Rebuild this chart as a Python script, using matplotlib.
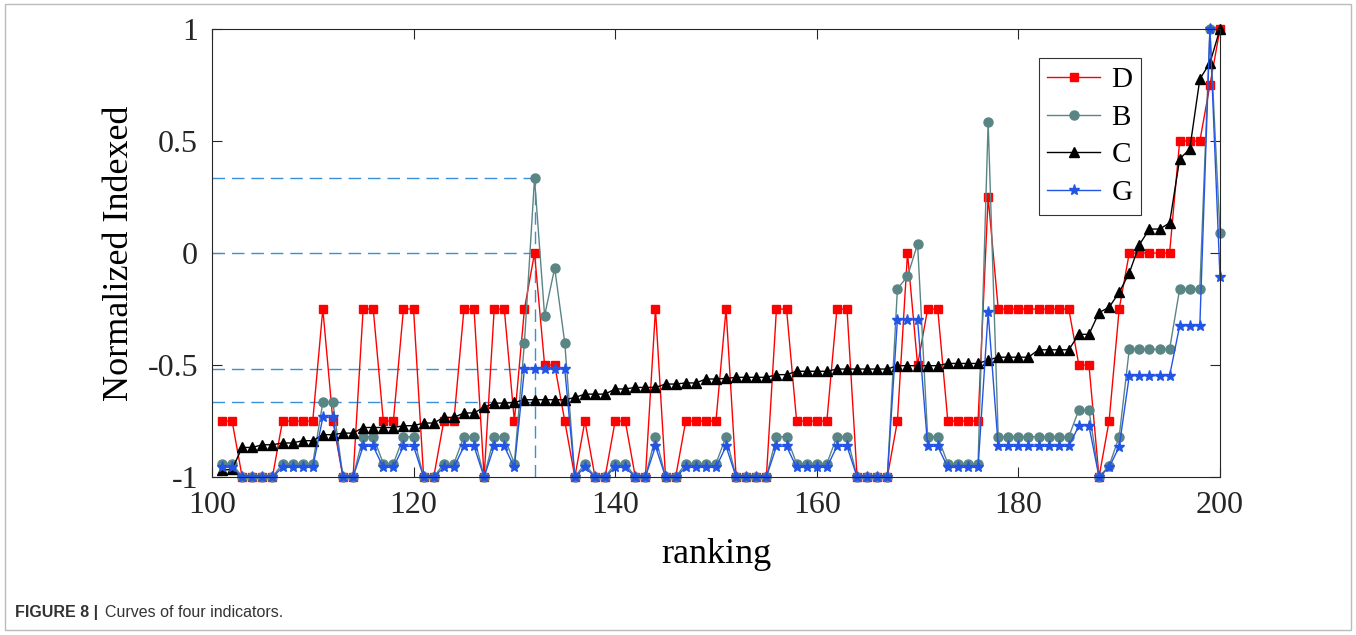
import matplotlib
matplotlib.use('Agg')
import matplotlib.pyplot as plt
import numpy as np

plt.rcParams['font.family'] = ['Liberation Serif', 'DejaVu Serif']
plt.rcParams['axes.unicode_minus'] = False

RANKING = list(range(101, 201))

D = [-0.75, -0.75, -1, -1, -1, -1, -0.75, -0.75, -0.75, -0.75,
     -0.25, -0.75, -1, -1, -0.25, -0.25, -0.75, -0.75, -0.25, -0.25,
     -1, -1, -0.75, -0.75, -0.25, -0.25, -1, -0.25, -0.25, -0.75,
     -0.25, 0, -0.5, -0.5, -0.75, -1, -0.75, -1, -1, -0.75,
     -0.75, -1, -1, -0.25, -1, -1, -0.75, -0.75, -0.75, -0.75,
     -0.25, -1, -1, -1, -1, -0.25, -0.25, -0.75, -0.75, -0.75,
     -0.75, -0.25, -0.25, -1, -1, -1, -1, -0.75, 0, -0.5,
     -0.25, -0.25, -0.75, -0.75, -0.75, -0.75, 0.25, -0.25, -0.25, -0.25,
     -0.25, -0.25, -0.25, -0.25, -0.25, -0.5, -0.5, -1, -0.75, -0.25,
     0, 0, 0, 0, 0, 0.5, 0.5, 0.5, 0.75, 1]

B = [-0.94, -0.94, -1, -1, -1, -1, -0.94, -0.94, -0.94, -0.94,
     -0.667, -0.667, -1, -1, -0.82, -0.82, -0.94, -0.94, -0.82, -0.82,
     -1, -1, -0.94, -0.94, -0.82, -0.82, -1, -0.82, -0.82, -0.94,
     -0.4, 0.333, -0.28, -0.067, -0.4, -1, -0.94, -1, -1, -0.94,
     -0.94, -1, -1, -0.82, -1, -1, -0.94, -0.94, -0.94, -0.94,
     -0.82, -1, -1, -1, -1, -0.82, -0.82, -0.94, -0.94, -0.94,
     -0.94, -0.82, -0.82, -1, -1, -1, -1, -0.16, -0.104, 0.04,
     -0.82, -0.82, -0.94, -0.94, -0.94, -0.94, 0.583, -0.82, -0.82, -0.82,
     -0.82, -0.82, -0.82, -0.82, -0.82, -0.70, -0.70, -1, -0.95, -0.82,
     -0.43, -0.43, -0.43, -0.43, -0.43, -0.16, -0.16, -0.16, 1, 0.09]

C = [-0.97, -0.965, -0.868, -0.868, -0.856, -0.856, -0.848, -0.848, -0.838, -0.838,
     -0.811, -0.811, -0.804, -0.804, -0.779, -0.779, -0.779, -0.779, -0.771, -0.771,
     -0.759, -0.759, -0.734, -0.734, -0.714, -0.714, -0.689, -0.67, -0.67, -0.667,
     -0.655, -0.655, -0.655, -0.655, -0.655, -0.645, -0.63, -0.63, -0.63, -0.607,
     -0.607, -0.6, -0.6, -0.6, -0.585, -0.585, -0.58, -0.58, -0.5625, -0.5625,
     -0.56, -0.555, -0.555, -0.555, -0.555, -0.543, -0.543, -0.528, -0.528, -0.528,
     -0.528, -0.518, -0.518, -0.518, -0.518, -0.518, -0.518, -0.503, -0.503, -0.503,
     -0.503, -0.503, -0.493, -0.493, -0.493, -0.493, -0.478, -0.465, -0.465, -0.465,
     -0.465, -0.432, -0.432, -0.432, -0.432, -0.363, -0.363, -0.266, -0.242, -0.176,
     -0.089, 0.037, 0.107, 0.107, 0.134, 0.42, 0.464, 0.777, 0.848, 1]

G = [-0.957, -0.957, -1, -1, -1, -1, -0.957, -0.957, -0.957, -0.957,
     -0.734, -0.734, -1, -1, -0.863, -0.863, -0.957, -0.957, -0.863, -0.863,
     -1, -1, -0.957, -0.957, -0.863, -0.863, -1, -0.863, -0.863, -0.957,
     -0.518, -0.518, -0.518, -0.518, -0.518, -1, -0.957, -1, -1, -0.957,
     -0.957, -1, -1, -0.863, -1, -1, -0.957, -0.957, -0.957, -0.957,
     -0.863, -1, -1, -1, -1, -0.863, -0.863, -0.957, -0.957, -0.957,
     -0.957, -0.863, -0.863, -1, -1, -1, -1, -0.298, -0.298, -0.298,
     -0.863, -0.863, -0.957, -0.957, -0.957, -0.957, -0.265, -0.863, -0.863, -0.863,
     -0.863, -0.863, -0.863, -0.863, -0.863, -0.771, -0.771, -1, -0.957, -0.865,
     -0.548, -0.548, -0.548, -0.548, -0.548, -0.325, -0.325, -0.325, 1, -0.109]

# Guide lines marking the values at the highlighted ranking.
GUIDE_X = 132
GUIDE_LEVELS = [0.333, 0.0, -0.518, -0.663]

XTICKS = [100, 120, 140, 160, 180, 200]
YTICKS = [-1, -0.5, 0, 0.5, 1]
YTICK_LABELS = ['-1', '-0.5', '0', '0.5', '1']

fig = plt.figure(figsize=(13.56, 6.35), dpi=100)
ax = fig.add_axes([0.1563, 0.2488, 0.7434, 0.7055])

guide_color = '#3A8FD6'
for lvl in GUIDE_LEVELS:
  ax.plot([100, GUIDE_X], [lvl, lvl], '--', color=guide_color,
          linewidth=1, dashes=(9, 5))
ax.plot([GUIDE_X, GUIDE_X], [-1, max(GUIDE_LEVELS)], '--',
        color=guide_color, linewidth=1, dashes=(9, 5))

ax.plot(RANKING, D, '-s', color='#FF0000', linewidth=1,
        markersize=6, label='D', clip_on=False)
ax.plot(RANKING, B, '-o', color='#5A8585', linewidth=1,
        markersize=6.5, label='B', clip_on=False)
ax.plot(RANKING, C, '-^', color='black', linewidth=1,
        markersize=7, label='C', clip_on=False)
ax.plot(RANKING, G, '-*', color='#2255E6', linewidth=1,
        markersize=8, label='G', clip_on=False)

ax.set_xlim(100, 200)
ax.set_ylim(-1, 1)
ax.set_xticks(XTICKS)
ax.set_yticks(YTICKS)
ax.set_yticklabels(YTICK_LABELS)
ax.tick_params(direction='in', top=True, right=True, labelsize=23,
               length=7, width=0.8, colors='#262626', pad=10)
for sp in ax.spines.values():
  sp.set_linewidth(0.8)
  sp.set_color('#262626')

ax.set_xlabel('ranking', fontsize=26, labelpad=13)
ax.set_ylabel('Normalized Indexed', fontsize=26, labelpad=8)

leg = ax.legend(loc='upper left', bbox_to_anchor=(0.82, 0.935),
                fontsize=21, frameon=True, fancybox=False,
                edgecolor='black', handlelength=1.8, labelspacing=0.38,
                borderpad=0.3, handletextpad=0.4, borderaxespad=0)
leg.get_frame().set_linewidth(0.8)

# Outer frame and caption.
fig.patches.append(plt.Rectangle((0.004, 0.008), 0.992, 0.985,
                                 transform=fig.transFigure, fill=False,
                                 edgecolor='#BBBBBB', linewidth=1))
fig.text(0.011, 0.028, 'FIGURE 8 |', fontsize=11.5, fontweight='bold',
         family='Liberation Sans', color='#333333')
fig.text(0.0775, 0.028, 'Curves of four indicators.', fontsize=11.5,
         family='Liberation Sans', color='#333333')

fig.savefig('out.png', dpi=100)
plt.close(fig)
